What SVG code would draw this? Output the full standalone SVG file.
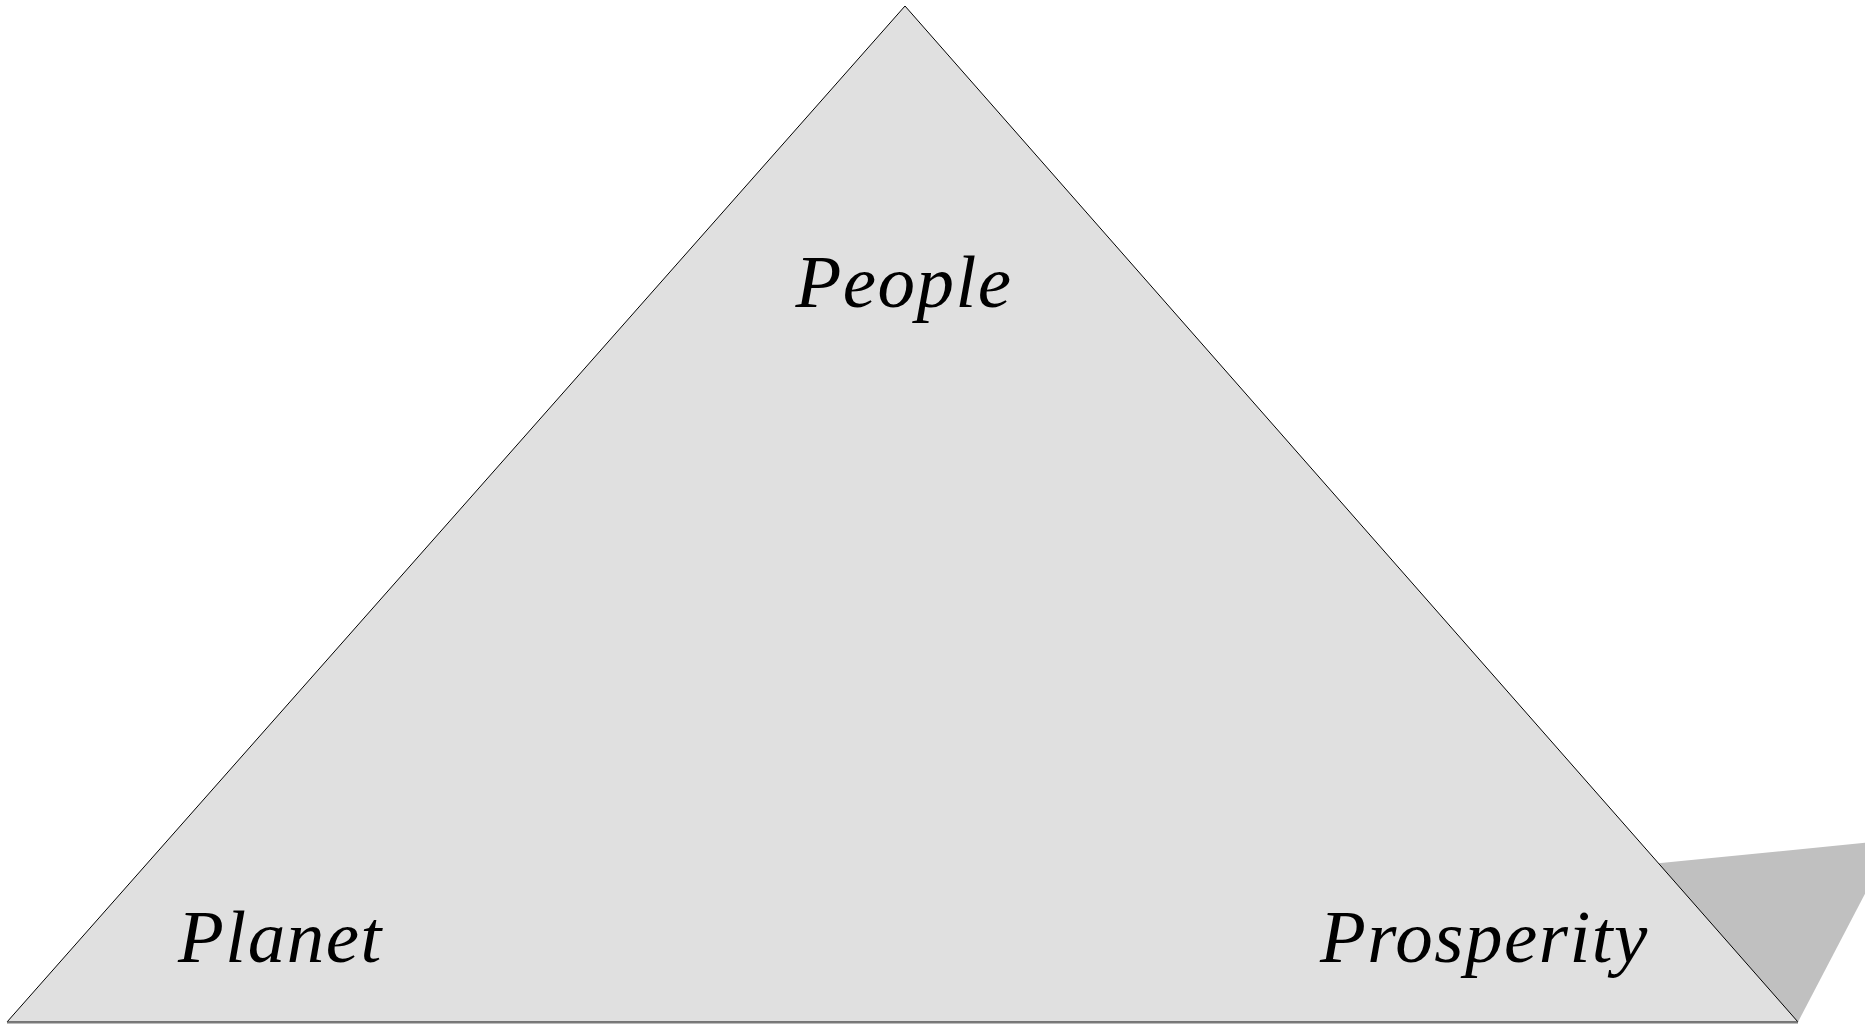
<svg xmlns="http://www.w3.org/2000/svg" width="1865" height="1024" viewBox="0 0 1865 1024">
<style>
.lbl{font-family:"Liberation Serif","Times New Roman",serif;font-style:italic;font-size:75px;fill:#000;letter-spacing:1.5px}
</style>
<rect width="1865" height="1024" fill="#ffffff"/>
<g id="shadow">
<polygon points="1600,869 1893,840 1798,1022 1700,1022" fill="#c0c0c0"/>
</g>
<g id="triangle">
<polygon points="905,6 1798,1022 7,1022" fill="#e0e0e0" stroke="#000" stroke-width="1"/>
<line x1="7" y1="1022.5" x2="1798" y2="1022.5" stroke="#7a7a7a" stroke-width="2"/>
</g>
<g id="people"><text class="lbl" x="904" y="307" text-anchor="middle">People</text></g>
<g id="planet"><text class="lbl" x="178" y="962">Planet</text></g>
<g id="prosperity"><text class="lbl" x="1320" y="962">Prosperity</text></g>
</svg>
